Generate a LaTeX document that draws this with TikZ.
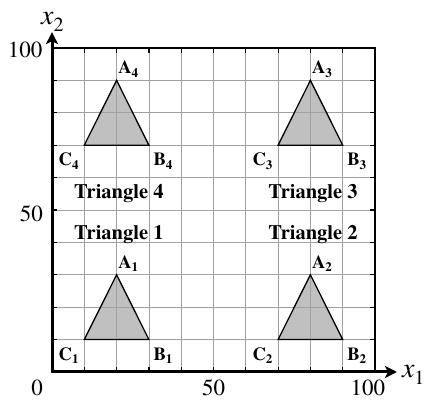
\documentclass[tikz,border=0pt]{standalone}
\usepackage{fontspec}
\setmainfont{texgyretermes}[Extension=.otf, UprightFont=*-regular, BoldFont=*-bold, ItalicFont=*-italic, BoldItalicFont=*-bolditalic]
\usetikzlibrary{arrows.meta}
\definecolor{trifill}{RGB}{192,192,192}
\definecolor{gridc}{RGB}{160,160,160}
\newcommand{\vlab}[2]{\fontsize{18.5bp}{20bp}\selectfont\rmfamily\bfseries #1\raisebox{-3.4bp}{\fontsize{13bp}{14bp}\selectfont\bfseries #2}}
\newcommand{\axlab}[2]{\fontsize{28bp}{30bp}\selectfont\rmfamily\itshape #1\upshape\raisebox{-7bp}{\fontsize{20bp}{22bp}\selectfont #2}}
\tikzset{
  gridline/.style={draw=gridc, line width=0.8bp},
  triline/.style={draw=black, line width=1.3bp},
  framel/.style={draw=black, line width=1.6bp},
  tickl/.style={draw=black, line width=1.2bp},
  axisl/.style={draw=black, line width=3bp, line join=miter,
    {Stealth[length=12bp,width=12bp,inset=3bp]}-{Stealth[length=12bp,width=12bp,inset=3bp]}},
  ticklab/.style={inner sep=0pt, font=\rmfamily\fontsize{23bp}{25bp}\selectfont},
  trilab/.style={inner sep=0pt, anchor=base, font=\rmfamily\fontsize{20.5bp}{22bp}\selectfont\bfseries},
  vtx/.style={inner sep=0pt}
}
\begin{document}
\begin{tikzpicture}[x=3.23bp,y=3.24bp]
\useasboundingbox (-16.10,-8.64) rectangle (115.17,114.81);
\coordinate (O) at (0,0);
\coordinate (T) at (100,100);
\coordinate (TL) at (0,100);
\coordinate (BR) at (100,0);
\coordinate (Y) at (0,104.9);
\coordinate (X) at (106.8,0);
% triangle vertices
\foreach \n/\cx/\cy in {1/20/10, 2/80/10, 3/80/70, 4/20/70}{
  \coordinate (A\n) at (\cx,\cy+20);
  \coordinate (B\n) at (\cx+10,\cy);
  \coordinate (C\n) at (\cx-10,\cy);
}
\foreach \n in {1,2,3,4}{
  \fill[trifill] (A\n) -- (B\n) -- (C\n) -- cycle;
}
% grid
\draw[gridline, step=10] (O) grid (T);
% triangle outlines
\foreach \n in {1,2,3,4}{
  \draw[triline] (A\n) -- (B\n) -- (C\n) -- cycle;
}
% frame
\draw[framel] (TL) -- (T) -- (BR);
% ticks
\foreach \i in {10,20,...,90}{
  \coordinate (tb\i) at (\i,0);
  \coordinate (tt\i) at (\i,100);
  \coordinate (tl\i) at (0,\i);
  \coordinate (tr\i) at (100,\i);
  \draw[tickl] (tb\i) -- ++(0pt,5bp);
  \draw[tickl] (tt\i) -- ++(0pt,-5bp);
  \draw[tickl] (tl\i) -- ++(5bp,0pt);
  \draw[tickl] (tr\i) -- ++(-5bp,0pt);
}
% axes
\draw[axisl] (Y) -- (O) -- (X);
\node[inner sep=0pt, anchor=base west] (lx2) at (-3.41,107.1) {\axlab{x}{2}};
\node[inner sep=0pt, anchor=base west] (lx1) at (108.3,-1.85) {\axlab{x}{1}};
% tick labels
\node[ticklab, anchor=base east] (ly100) at (-2.9,97.2) {100};
\node[ticklab, anchor=base east] (ly50) at (-2.8,46.6) {50};
\node[ticklab, anchor=base] (lx0) at (-4.64,-7.3) {0};
\node[ticklab, anchor=base] (lx50) at (50,-7.3) {50};
\node[ticklab, anchor=base] (lx100) at (97.8,-7.3) {100};
% triangle labels
\node[trilab] (t4) at (20.7,53.6) {Triangle 4};
\node[trilab] (t1) at (20.7,40.96) {Triangle 1};
\node[trilab] (t3) at (80.8,53.6) {Triangle 3};
\node[trilab] (t2) at (80.8,40.96) {Triangle 2};
% vertex labels
\foreach \n in {1,2,3,4}{
  \node[vtx, anchor=base west, xshift=1.5bp, yshift=6.7bp] (la\n) at (A\n) {\vlab{A}{\n}};
  \node[vtx, anchor=base west, xshift=4.4bp, yshift=-20.7bp] (lb\n) at (B\n) {\vlab{B}{\n}};
  \node[vtx, anchor=base east, xshift=-5.5bp, yshift=-20.7bp] (lc\n) at (C\n) {\vlab{C}{\n}};
}
\end{tikzpicture}
\end{document}
